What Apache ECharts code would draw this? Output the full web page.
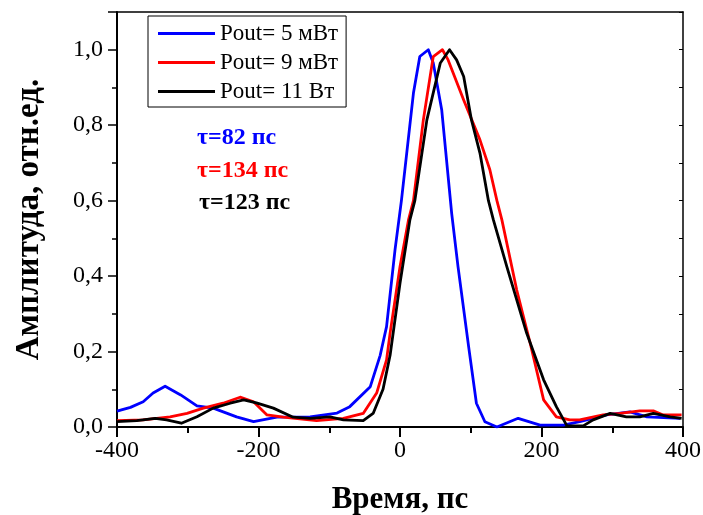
<!DOCTYPE html>
<html>
<head>
<meta charset="utf-8">
<script src="https://cdn.jsdelivr.net/npm/echarts@6/dist/echarts.min.js"></script>
<style>
  html, body { margin: 0; padding: 0; background: #fff; }
  #chart { width: 703px; height: 515px; }
</style>
</head>
<body>
<div id="chart"></div>
<script>
// Pulse shapes: time (ps) and normalised amplitude for each output power
const seriesNames = ['Pout= 5 мВт', 'Pout= 9 мВт', 'Pout= 11 Вт'];
const seriesColors = ['#0000ff', '#ff0000', '#000000'];

const t5 = [-400, -381, -363, -349, -332, -310, -287, -264, -231, -207, -174, -127, -89, -71, -42, -28, -19, -7, 2, 19, 28, 40, 47, 59, 73, 82, 97, 108, 120, 137, 167, 198, 231, 254, 292, 325, 349, 396];
const a5 = [0.042, 0.052, 0.067, 0.09, 0.108, 0.085, 0.056, 0.05, 0.027, 0.014, 0.026, 0.027, 0.037, 0.054, 0.107, 0.19, 0.266, 0.47, 0.60, 0.885, 0.982, 1.0, 0.965, 0.84, 0.567, 0.425, 0.213, 0.063, 0.014, 0.0, 0.023, 0.005, 0.005, 0.014, 0.032, 0.04, 0.027, 0.023];

const t9 = [-400, -363, -325, -301, -278, -250, -226, -207, -188, -165, -118, -80, -52, -33, -19, -14, 0, 12, 19, 33, 47, 60, 68, 90, 113, 127, 137, 144, 165, 184, 203, 221, 240, 254, 287, 311, 339, 358, 372, 398];
const a9 = [0.017, 0.019, 0.027, 0.036, 0.05, 0.063, 0.079, 0.067, 0.032, 0.026, 0.017, 0.023, 0.036, 0.09, 0.178, 0.249, 0.425, 0.549, 0.60, 0.814, 0.982, 1.0, 0.973, 0.867, 0.761, 0.682, 0.60, 0.549, 0.363, 0.222, 0.072, 0.027, 0.019, 0.019, 0.032, 0.036, 0.043, 0.043, 0.032, 0.032];

const t11 = [-400, -372, -346, -330, -309, -287, -264, -240, -221, -203, -179, -151, -127, -99, -80, -52, -38, -24, -14, 0, 14, 21, 38, 57, 70, 80, 90, 101, 113, 125, 132, 151, 179, 203, 221, 236, 259, 273, 297, 320, 339, 358, 382, 398];
const a11 = [0.014, 0.017, 0.023, 0.019, 0.01, 0.027, 0.05, 0.063, 0.072, 0.064, 0.05, 0.026, 0.023, 0.027, 0.019, 0.017, 0.036, 0.1, 0.19, 0.381, 0.549, 0.60, 0.814, 0.965, 1.0, 0.973, 0.929, 0.814, 0.726, 0.60, 0.549, 0.425, 0.249, 0.125, 0.054, 0.003, 0.003, 0.019, 0.036, 0.027, 0.027, 0.036, 0.027, 0.023];

// Pulse-width annotations
const tauLabels = ['τ=82 пс', 'τ=134 пс', 'τ=123 пс'];

const xTitle = 'Время, пс';
const yTitle = 'Амплитуда, отн.ед.';

const FONT = '"Liberation Serif", "Times New Roman", serif';

function pairs(xs, ys) { return xs.map((x, i) => [x, ys[i]]); }

const chart = echarts.init(document.getElementById('chart'), null, { renderer: 'canvas' });

const curves = [[t5, a5], [t9, a9], [t11, a11]];

const option = {
  animation: false,
  backgroundColor: '#ffffff',
  grid: { left: 117, right: 20, top: 12, bottom: 88, containLabel: false, outerBoundsMode: 'none' },
  legend: {
    left: 148, top: 16, orient: 'vertical',
    data: seriesNames,
    icon: 'rect', itemWidth: 57, itemHeight: 3, itemGap: 6,
    padding: [6, 8, 4, 10],
    borderColor: '#000', borderWidth: 1,
    textStyle: { fontFamily: FONT, fontSize: 23, color: '#000' }
  },
  xAxis: [{
    type: 'value', min: -400, max: 400, interval: 200,
    position: 'bottom',
    name: xTitle, nameLocation: 'middle', nameGap: 57,
    nameTextStyle: { fontFamily: FONT, fontSize: 31, fontWeight: 'bold', color: '#000' },
    axisLine: { show: true, onZero: false, lineStyle: { color: '#000', width: 2 } },
    axisTick: { show: true, inside: false, length: 10, lineStyle: { color: '#000', width: 2 } },
    minorTick: { show: true, splitNumber: 2, length: 6, lineStyle: { color: '#000', width: 2 } },
    axisLabel: { margin: 12, fontFamily: FONT, fontSize: 24, color: '#000' },
    splitLine: { show: false }
  }, {
    type: 'value', min: -400, max: 400, interval: 200,
    position: 'top',
    axisLine: { show: true, onZero: false, lineStyle: { color: '#000', width: 1.5 } },
    axisTick: { show: false }, axisLabel: { show: false }, splitLine: { show: false }
  }],
  yAxis: [{
    type: 'value', min: 0, max: 1.1, interval: 0.2,
    position: 'left',
    name: yTitle, nameLocation: 'middle', nameGap: 71,
    nameTextStyle: { fontFamily: FONT, fontSize: 33, fontWeight: 'bold', color: '#000' },
    axisLine: { show: true, onZero: false, lineStyle: { color: '#000', width: 2 } },
    axisTick: { show: true, inside: false, length: 9, lineStyle: { color: '#000', width: 1.5 } },
    minorTick: { show: true, splitNumber: 2, length: 5, lineStyle: { color: '#000', width: 1.5 } },
    axisLabel: {
      margin: 14, fontFamily: FONT, fontSize: 24, color: '#000', showMaxLabel: false,
      formatter: v => v.toFixed(1).replace('.', ',')
    },
    splitLine: { show: false }
  }, {
    type: 'value', min: 0, max: 1.1, interval: 0.1,
    position: 'right',
    axisLine: { show: true, onZero: false, lineStyle: { color: '#000', width: 1.5 } },
    axisTick: { show: true, inside: true, length: 4, lineStyle: { color: '#000', width: 1 } },
    axisLabel: { show: false }, splitLine: { show: false }
  }],
  series: curves.map((c, i) => ({
    name: seriesNames[i],
    type: 'line',
    data: pairs(c[0], c[1]),
    showSymbol: false, symbol: 'none',
    smooth: false,
    lineStyle: { color: seriesColors[i], width: 2.8, join: 'round' },
    itemStyle: { color: seriesColors[i] },
    z: 3 + i
  })),
  graphic: tauLabels.map((txt, i) => ({
    type: 'text',
    left: 197 + (i === 2 ? 2 : 0), top: 126 + i * 32.5,
    style: {
      text: txt, fill: seriesColors[i],
      font: 'bold 24px ' + FONT
    }
  }))
};

chart.setOption(option);
</script>
</body>
</html>
